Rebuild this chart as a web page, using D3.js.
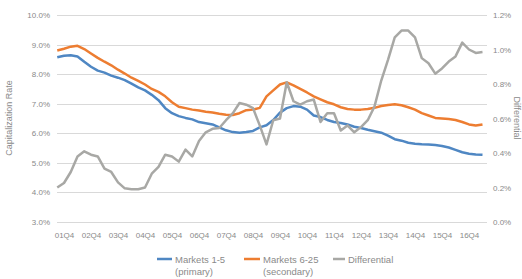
<!DOCTYPE html>
<html>
<head>
<meta charset="utf-8">
<script src="https://cdn.jsdelivr.net/npm/d3@7"></script>
<style>
  body { margin: 0; background: #fff; }
  svg { display: block; font-family: "Liberation Sans", Arial, sans-serif; }
</style>
</head>
<body>
<div id="chart"></div>
<script>
// quarters 01Q3 .. 17Q2, labels every 4th (Q4)
var quarters = [];
for (var y = 1; y <= 17; y++) {
    for (var q = 1; q <= 4; q++) {
        if ((y == 1 && q < 3) || (y == 17 && q > 2)) continue;
        quarters.push((y < 10 ? "0" + y : "" + y) + "Q" + q);
    }
}
var tickLabels = ["01Q4","02Q4","03Q4","04Q4","05Q4","06Q4","07Q4","08Q4","09Q4","10Q4","11Q4","12Q4","13Q4","14Q4","15Q4","16Q4"];

var primary = [8.57,8.62,8.64,8.6,8.42,8.25,8.12,8.05,7.95,7.88,7.8,7.68,7.55,7.45,7.3,7.12,
    6.85,6.68,6.58,6.52,6.47,6.38,6.34,6.3,6.2,6.1,6.04,6.02,6.04,6.08,6.2,6.27,
    6.45,6.7,6.85,6.92,6.9,6.8,6.6,6.55,6.45,6.38,6.35,6.3,6.22,6.18,6.12,6.07,
    6.02,5.92,5.8,5.75,5.68,5.65,5.63,5.62,5.6,5.57,5.52,5.44,5.36,5.31,5.28,5.27];

var secondary = [8.8,8.86,8.93,8.96,8.85,8.7,8.55,8.42,8.3,8.15,8.02,7.88,7.77,7.65,7.5,7.4,
    7.25,7.05,6.9,6.85,6.8,6.77,6.73,6.7,6.66,6.63,6.62,6.68,6.78,6.8,6.86,7.25,
    7.45,7.65,7.72,7.62,7.5,7.38,7.25,7.15,7.05,6.98,6.88,6.82,6.8,6.8,6.82,6.86,
    6.92,6.96,6.98,6.95,6.88,6.8,6.68,6.6,6.52,6.5,6.48,6.45,6.38,6.3,6.26,6.3];

var differential = [0.2,0.226,0.29,0.38,0.41,0.39,0.38,0.31,0.29,0.23,0.195,0.19,0.19,0.2,0.28,0.32,
    0.39,0.38,0.35,0.42,0.38,0.47,0.52,0.54,0.545,0.59,0.63,0.69,0.68,0.66,0.56,0.45,
    0.59,0.6,0.81,0.7,0.68,0.7,0.71,0.58,0.63,0.63,0.53,0.56,0.52,0.55,0.59,0.67,
    0.82,0.94,1.07,1.11,1.11,1.07,0.95,0.92,0.86,0.89,0.93,0.96,1.04,1.0,0.98,0.985];

var leftTicks = [3,4,5,6,7,8,9,10];
var rightTicks = [0,0.2,0.4,0.6,0.8,1.0,1.2];

var W = 522, H = 279;
var plotLeft = 57, plotRight = 487, plotTop = 15, plotBottom = 222;

var svg = d3.select("#chart").append("svg").attr("width", W).attr("height", H);

var x = d3.scalePoint().domain(quarters).range([57.25, 482.5]);
var yL = d3.scaleLinear().domain([3, 10]).range([plotBottom, plotTop]);
var yR = d3.scaleLinear().domain([0, 1.2]).range([plotBottom, plotTop]);

// gridlines
svg.append("g").selectAll("line")
    .data(leftTicks)
    .enter()
    .append("line")
    .attr("x1", plotLeft).attr("x2", plotRight)
    .attr("y1", function(d){ return Math.round(yL(d)) + 0.5; })
    .attr("y2", function(d){ return Math.round(yL(d)) + 0.5; })
    .attr("stroke", "#d9d9d9")
    .attr("stroke-width", 1);

var yAxisL = d3.axisLeft(yL).tickValues(leftTicks).tickSize(0).tickPadding(7)
    .tickFormat(function(d){ return d.toFixed(1) + "%"; });
var yAxisR = d3.axisRight(yR).tickValues(rightTicks).tickSize(0).tickPadding(6)
    .tickFormat(function(d){ return d.toFixed(1) + "%"; });
var xAxis = d3.axisBottom(x).tickValues(tickLabels).tickSize(0).tickPadding(10);

var gl = svg.append("g").attr("transform", "translate(" + plotLeft + ",0)").call(yAxisL);
var gr = svg.append("g").attr("transform", "translate(" + plotRight + ",0)").call(yAxisR);
var gx = svg.append("g").attr("transform", "translate(0," + plotBottom + ")").call(xAxis);

[gl, gr, gx].forEach(function(g){
    g.select(".domain").remove();
    g.selectAll("text").attr("fill", "#8a8a8a").attr("font-size", 8);
});

// axis titles
svg.append("text")
    .text("Capitalization Rate")
    .attr("transform", "translate(12,118) rotate(-90)")
    .attr("text-anchor", "middle")
    .attr("font-size", 9)
    .attr("fill", "#8a8a8a");

svg.append("text")
    .text("Differential")
    .attr("transform", "translate(514,118) rotate(90)")
    .attr("text-anchor", "middle")
    .attr("font-size", 9)
    .attr("fill", "#8a8a8a");

// lines
var lineL = d3.line().x(function(d,i){ return x(quarters[i]); }).y(function(d){ return yL(d); });
var lineR = d3.line().x(function(d,i){ return x(quarters[i]); }).y(function(d){ return yR(d); });

var series = [
    {data: primary, line: lineL, color: "#4f87c3"},
    {data: secondary, line: lineL, color: "#ed7d31"},
    {data: differential, line: lineR, color: "#a8a8a5"}
];

svg.selectAll(".series")
    .data(series)
    .enter()
    .append("path")
    .attr("class", "series")
    .attr("d", function(d){ return d.line(d.data); })
    .attr("fill", "none")
    .attr("stroke", function(d){ return d.color; })
    .attr("stroke-width", 2.5)
    .attr("stroke-linejoin", "round");

// legend
var legendItems = [
    {lines: ["Markets 1-5", "(primary)"], color: "#4f87c3", x: 157, w: 15},
    {lines: ["Markets 6-25", "(secondary)"], color: "#ed7d31", x: 244, w: 16},
    {lines: ["Differential"], color: "#a8a8a5", x: 333, w: 12}
];

var lg = svg.selectAll(".legend")
    .data(legendItems)
    .enter()
    .append("g")
    .attr("class", "legend")
    .attr("transform", function(d){ return "translate(" + d.x + ",259)"; });

lg.append("line")
    .attr("x1", 0).attr("x2", function(d){ return d.w; })
    .attr("y1", 0).attr("y2", 0)
    .attr("stroke", function(d){ return d.color; })
    .attr("stroke-width", 2.5);

lg.each(function(d){
    var t = d3.select(this).append("text")
        .attr("y", 3.5)
        .attr("font-size", 9.5)
        .attr("fill", "#8a8a8a");
    d.lines.forEach(function(s, i){
        t.append("tspan").attr("x", d.w + 3).attr("dy", i == 0 ? 0 : 12).text(s);
    });
});
</script>
</body>
</html>
